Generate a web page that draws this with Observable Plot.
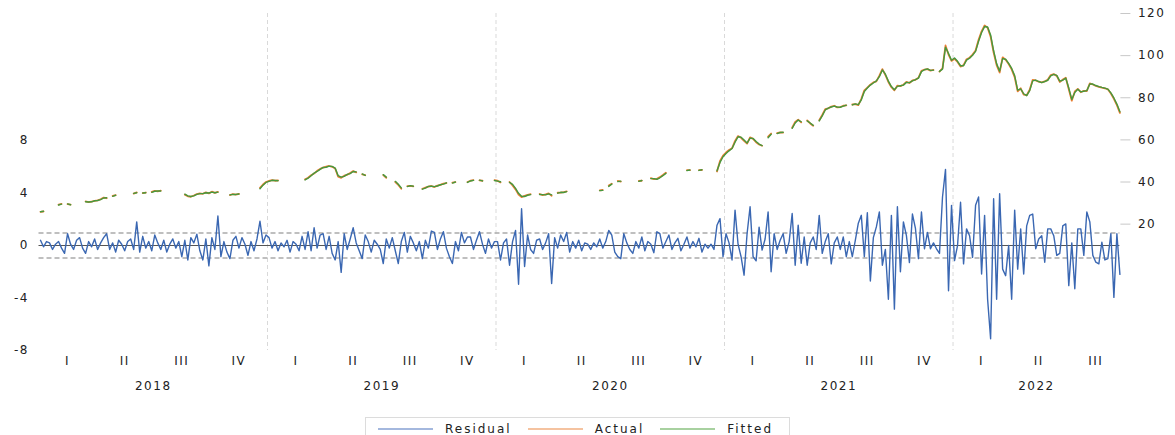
<!DOCTYPE html>
<html><head><meta charset="utf-8">
<script src="https://cdn.jsdelivr.net/npm/d3@7"></script>
<script src="https://cdn.jsdelivr.net/npm/@observablehq/plot@0.6"></script>
<style>
body{margin:0;background:#fff;font-family:"DejaVu Sans",sans-serif;}
#wrap{position:relative;width:1175px;height:435px;overflow:hidden;background:#fff;}
#legend{position:absolute;left:365px;top:417px;width:425px;height:26px;border:1px solid #dcdcdc;box-sizing:border-box;display:flex;align-items:flex-start;padding-top:3px;padding-left:12px;font-size:12px;letter-spacing:2px;color:#222;}
#legend .sw{display:inline-block;width:55px;height:2px;margin-top:7px;margin-right:12px;}
#legend .lb{margin-right:16px;line-height:16px;}
</style></head><body><div id="wrap"><div id="chart"></div><div id="legend"></div></div>
<script>
// ---------------- data ----------------
const years = [2018, 2019, 2020, 2021, 2022];
const pointsPerYear = 76;
const quarterLabels = ["I", "II", "III", "IV"];
const leftTicks = [-8, -4, 0, 4, 8];
const rightTicks = [20, 40, 60, 80, 100, 120];
const seriesNames = ["Residual", "Actual", "Fitted"];
const bandLevel = 0.95;

const residual2018 = [0.4,-0.1,0.3,0.2,-0.3,0.1,0.3,-0.2,-0.6,0.9,0.1,-0.3,0.4,0.6,-0.2,-0.6,0.3,-0.1,0.5,-0.3,0.2,0.6,0.9,-0.3,0.2,-0.5,0.4,0.1,-0.4,0.3,0.5,-0.3,1.8,-0.5,0.7,-0.2,0.3,-0.4,0.8,0.2,-0.3,0.4,-0.5,0.1,0.5,-0.2,0.3,-0.85,0.4,-1.1,0.6,0.2,0.86,-0.4,-1.1,0.5,-1.55,0.6,-0.3,2.25,-0.85,0.3,-0.5,-1.0,0.4,0.7,-0.2,0.6,0.1,-0.75,0.3,-0.4,0.5,1.85,0.2,0.8];
const residual2019 = [0.6,-0.2,0.3,-0.4,0.2,-0.1,0.4,-0.5,0.3,0.1,-0.4,0.7,-0.3,1.05,-0.4,1.35,-0.2,0.8,0.9,-0.3,0.7,-0.6,-1.1,0.3,-2.05,0.9,-0.3,0.5,1.35,0.2,-0.4,-1.0,0.8,0.3,-0.5,0.4,0.1,-0.3,-1.37,0.5,-0.2,0.6,-0.4,-1.37,0.3,1.0,-0.5,0.7,0.2,-0.4,0.3,-1.0,0.4,-0.2,1.1,1.0,-0.3,0.5,1.05,-0.2,-0.85,-1.37,0.3,-0.4,1.0,0.2,0.65,0.65,-0.3,0.4,1.05,0.1,-0.6,0.5,-0.2,0.3];
const residual2020 = [0.3,-1.1,0.2,0.5,-1.5,0.3,1.15,-2.95,2.8,-1.6,0.8,-0.3,-0.6,0.4,0.5,-0.3,0.2,0.9,-2.9,0.6,-0.2,0.8,0.3,1.0,-0.5,0.3,-0.2,0.4,-0.4,0.2,0.1,-0.3,0.2,-0.1,0.5,-0.2,0.3,1.15,0.8,-0.5,-0.85,-1.0,0.9,0.2,-0.3,-0.6,0.3,-0.2,0.65,-0.4,0.3,0.1,-0.55,1.05,0.9,-0.2,0.3,0.8,-0.3,0.2,0.55,-0.4,0.1,0.65,-0.2,0.3,-0.1,0.55,-0.5,0.1,-0.2,0.1,-0.3,1.55,2.05,-0.85];
const residual2021 = [0.9,0.2,-1.1,2.7,0.1,-0.85,-2.26,0.9,2.95,-0.85,-1.17,1.4,-0.35,0.5,2.56,-2.0,0.9,-0.3,0.4,0.9,-0.6,0.3,2.44,-1.5,1.55,-1.35,0.65,-1.5,0.2,0.65,-0.3,2.3,-0.6,0.3,0.9,-1.4,0.2,0.65,-0.3,0.65,-0.85,0.3,-0.85,0.4,1.7,2.3,-0.85,2.5,-2.7,0.6,1.42,2.56,-1.5,-0.3,-4.1,2.3,-4.85,2.95,-2.0,1.8,0.75,-1.3,2.4,1.3,-1.0,2.55,-0.25,1.0,-0.25,0.2,-0.25,-0.6,3.7,5.8,-3.45,3.06];
const residual2022 = [-1.15,0.0,3.3,-1.4,1.27,0.75,-0.9,3.06,3.7,-2.17,2.3,-4.1,-7.1,3.57,-4.1,3.95,-1.8,-2.3,0.0,-4.1,2.7,-1.8,1.27,-2.17,1.5,2.3,2.4,-0.25,0.5,0.75,-1.27,1.27,1.27,0.75,-0.75,-0.6,1.5,1.65,-3.06,0.2,-3.3,1.27,1.27,-0.75,2.55,1.8,-0.75,-1.27,-1.4,0.25,-1.1,-1.0,0.9,-3.95,0.9,-2.2];

const actual2018 = [25.8,26.0,null,null,null,null,29.3,29.6,null,29.5,29.3,null,null,null,null,30.8,30.4,30.7,31.0,31.3,31.8,32.6,32.3,null,33.4,33.8,null,null,null,null,null,34.5,35.1,null,34.7,35.0,null,35.3,35.8,35.6,35.9,null,null,null,null,null,null,null,34.0,33.2,33.0,33.6,34.3,34.6,34.4,35.1,34.6,35.4,34.8,35.3,null,null,null,33.8,34.3,34.0,34.4,null,null,null,null,null,null,37.2,38.8,40.0];
const actual2019 = [40.5,40.9,40.6,40.8,null,null,null,null,null,null,null,null,41.3,42.0,43.2,44.0,45.3,46.2,46.8,47.3,47.6,47.2,46.4,42.5,42.0,43.0,43.4,44.3,45.2,44.6,null,43.6,43.3,null,null,null,null,null,43.3,42.0,null,null,40.0,38.6,36.8,null,38.0,38.2,37.9,null,null,36.8,37.3,37.8,38.1,37.6,38.3,38.6,39.2,39.5,null,39.7,39.9,null,null,null,40.0,40.6,40.9,null,40.8,40.6,null,null,null,40.9];
const actual2020 = [40.6,39.8,null,null,40.0,38.4,36.5,34.0,32.8,33.4,33.9,34.2,null,null,34.3,33.8,34.1,34.6,33.5,null,34.9,35.0,35.2,35.5,null,null,null,null,null,null,null,null,null,null,36.0,36.2,null,38.3,39.2,null,40.5,40.2,null,null,null,null,null,40.5,40.6,null,null,41.8,41.4,41.5,42.3,43.3,44.4,null,null,null,null,null,null,45.6,45.6,null,null,45.6,45.7,null,null,null,null,45.0,50.0,52.5];
const actual2021 = [54.0,55.2,56.0,59.5,61.8,61.0,59.5,58.2,61.2,60.5,58.9,57.8,57.2,null,61.5,63.0,null,63.2,63.6,63.4,null,null,65.8,68.5,69.6,68.3,null,69.2,67.8,66.7,null,69.3,71.8,74.6,75.0,75.8,76.2,75.4,75.6,76.2,76.4,null,76.8,77.0,76.5,79.5,83.5,84.8,86.2,87.3,87.8,90.5,93.6,90.8,87.5,85.0,83.5,85.8,85.5,86.2,87.5,87.0,88.2,88.5,89.5,92.8,93.4,93.6,92.9,93.2,null,92.4,94.0,104.8,100.5,97.5];
const actual2022 = [98.5,97.0,94.8,95.5,98.3,99.0,100.5,102.4,107.5,111.5,114.3,113.2,109.0,101.5,95.5,92.0,99.2,98.0,96.0,93.5,89.8,83.0,84.5,81.5,81.2,83.8,88.5,88.2,87.6,87.3,87.8,88.5,90.8,91.2,90.4,87.5,88.6,89.5,84.0,78.6,83.0,84.2,82.6,83.3,83.2,86.8,86.3,85.6,85.2,84.8,84.5,84.0,82.0,79.5,76.5,72.8];

const fitted2018 = [25.9,26.1,null,null,null,null,29.1,29.5,null,29.6,29.2,null,null,null,null,30.6,30.5,30.6,31.1,31.2,31.6,32.4,32.5,null,33.2,33.7,null,null,null,null,null,34.6,34.9,null,34.8,34.9,null,35.1,35.6,35.7,35.7,null,null,null,null,null,null,null,34.2,33.4,33.1,33.4,34.1,34.5,34.5,34.9,34.8,35.2,34.9,35.2,null,null,null,33.9,34.1,34.1,34.3,null,null,null,null,null,null,36.8,38.5,39.8];
const fitted2019 = [40.3,40.8,40.7,40.6,null,null,null,null,null,null,null,null,41.0,41.8,43.0,44.2,45.0,46.0,46.9,47.0,47.5,47.4,46.6,43.0,42.3,42.7,43.6,44.0,45.0,44.8,null,43.8,43.1,null,null,null,null,null,43.5,42.3,null,null,40.3,38.9,37.2,null,37.8,38.3,38.0,null,null,36.6,37.1,37.9,38.0,37.8,38.1,38.7,39.0,39.6,null,39.5,40.0,null,null,null,39.8,40.5,40.8,null,40.9,40.5,null,null,null,40.7];
const fitted2020 = [40.4,40.1,null,null,39.8,38.9,37.0,34.6,33.2,33.1,33.7,34.0,null,null,34.1,34.0,33.9,34.4,33.9,null,34.7,35.1,35.0,35.4,null,null,null,null,null,null,null,null,null,null,35.9,36.0,null,37.9,39.0,null,40.2,40.4,null,null,null,null,null,40.3,40.7,null,null,41.6,41.6,41.3,42.0,43.0,44.1,null,null,null,null,null,null,45.4,45.7,null,null,45.5,45.8,null,null,null,null,45.3,49.3,52.0];
const fitted2021 = [53.5,54.8,55.9,58.9,61.5,61.3,59.9,58.5,60.8,60.7,59.2,58.0,57.3,null,61.0,62.7,null,63.0,63.5,63.6,null,null,65.5,68.0,69.4,68.6,null,69.0,68.0,66.9,null,69.0,71.4,74.2,75.1,75.6,76.0,75.6,75.5,76.0,76.5,null,76.6,77.1,76.7,79.0,83.0,84.6,86.0,87.0,88.0,90.0,93.2,91.2,87.9,85.3,83.8,85.4,85.7,86.0,87.3,87.2,88.0,88.6,89.3,92.4,93.3,93.7,93.0,93.1,null,92.5,93.6,104.0,101.0,97.8];
const fitted2022 = [98.9,97.3,95.2,95.2,97.9,98.8,100.2,102.0,106.8,111.0,113.8,113.6,109.8,102.3,96.2,92.6,98.6,98.3,96.3,93.9,90.5,83.6,84.2,81.9,81.0,83.4,88.0,88.4,87.7,87.2,87.7,88.3,90.4,91.1,90.6,87.9,88.3,89.3,84.6,79.2,82.5,84.0,82.8,83.1,83.4,86.5,86.5,85.8,85.3,84.9,84.6,84.1,82.3,79.9,77.0,73.3];

// ---------------- build ----------------
const residualByYear = [residual2018, residual2019, residual2020, residual2021, residual2022];
const actualByYear = [actual2018, actual2019, actual2020, actual2021, actual2022];
const fittedByYear = [fitted2018, fitted2019, fitted2020, fitted2021, fitted2022];

function toRows(byYear) {
  return byYear.flatMap((vals, k) => vals.map((v, j) => ({
    t: years[k] + (j + 0.5) / pointsPerYear,
    v: v == null ? NaN : v
  })));
}
const leftDomain = [-8, 17.68];
const rightDomain = [-40, 120];
const toLeft = p => leftDomain[0] + (p - rightDomain[0]) * (leftDomain[1] - leftDomain[0]) / (rightDomain[1] - rightDomain[0]);
const fromLeft = v => rightDomain[0] + (v - leftDomain[0]) * (rightDomain[1] - rightDomain[0]) / (leftDomain[1] - leftDomain[0]);

const residRows = toRows(residualByYear);
const actualRows = toRows(actualByYear).map(d => ({t: d.t, v: toLeft(d.v)}));
const fittedRows = toRows(fittedByYear).map(d => ({t: d.t, v: toLeft(d.v)}));
const tEnd = residRows[residRows.length - 1].t;

const quarterRows = years.flatMap(y => quarterLabels.map((q, i) => ({t: y + (i + 0.5) / 4, label: q}))).filter(d => d.t <= tEnd);
const yearRows = years.map(y => ({t: (y + Math.min(y + 1, tEnd)) / 2, label: String(y)}));
const yearBounds = years.slice(1);

const colors = {Residual: "#3a67b2", Actual: "#ed7d31", Fitted: "#44993f"};
const legendColors = {Residual: "#a4b8de", Actual: "#f5c3a0", Fitted: "#a8d1a0"};

const chart = Plot.plot({
  width: 1175,
  height: 410,
  marginTop: 13,
  marginBottom: 60,
  marginLeft: 38.5,
  marginRight: 55.6,
  x: {domain: [years[0], tEnd], axis: null},
  y: {domain: leftDomain, axis: null},
  style: "font-family:'DejaVu Sans',sans-serif;font-size:12px;letter-spacing:1.5px;color:#222;background:#fff;overflow:visible;",
  marks: [
    Plot.ruleX(yearBounds, {stroke: "#d9d9d9", strokeDasharray: "4,3"}),
    Plot.ruleY([bandLevel, -bandLevel], {stroke: "#ababab", strokeDasharray: "5,3", strokeWidth: 1.5}),
    Plot.ruleY([0], {stroke: "#555", strokeWidth: 1}),
    Plot.line(actualRows, {x: "t", y: "v", stroke: colors.Actual, strokeWidth: 1.8}),
    Plot.line(fittedRows, {x: "t", y: "v", stroke: colors.Fitted, strokeWidth: 1.4}),
    Plot.line(residRows, {x: "t", y: "v", stroke: colors.Residual, strokeWidth: 1.4}),
    Plot.axisY(leftTicks, {anchor: "left", label: null, tickSize: 0, tickPadding: 10, tickFormat: d => String(d), fill: "#222"}),
    Plot.axisY(rightTicks.map(toLeft), {anchor: "right", label: null, tickSize: 10, tickPadding: 8, stroke: "#c8c8c8", fill: "#222", tickFormat: d => String(Math.round(fromLeft(d)))}),
    Plot.text(quarterRows, {x: "t", text: "label", frameAnchor: "bottom", dy: 14, fill: "#222"}),
    Plot.text(yearRows, {x: "t", text: "label", frameAnchor: "bottom", dy: 39, fill: "#222"})
  ]
});
document.getElementById("chart").appendChild(chart);

const legend = document.getElementById("legend");
seriesNames.forEach(name => {
  const sw = document.createElement("span");
  sw.className = "sw";
  sw.style.background = legendColors[name];
  const lb = document.createElement("span");
  lb.className = "lb";
  lb.textContent = name;
  legend.appendChild(sw);
  legend.appendChild(lb);
});
</script></body></html>
